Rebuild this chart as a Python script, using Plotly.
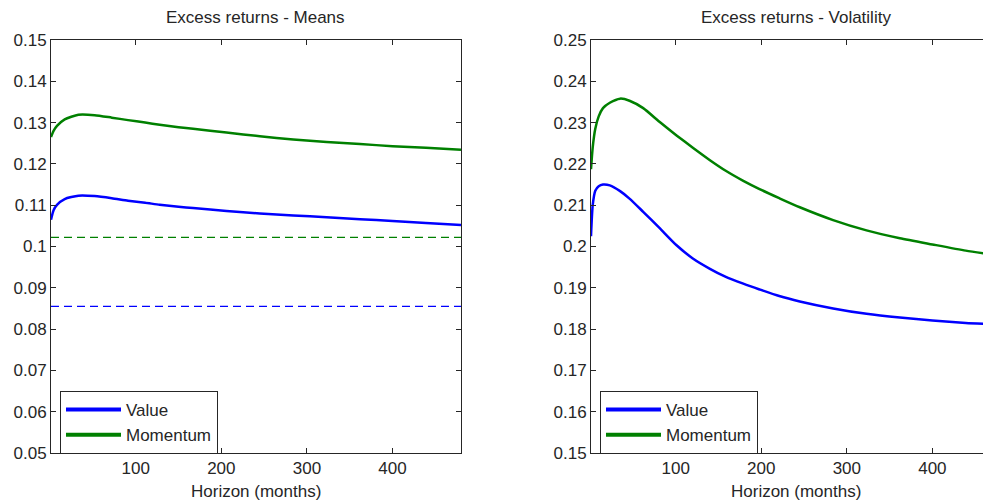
import plotly.graph_objects as go

# ---------------- data ----------------
# Horizons (months) for the means panel
mean_horizon = [1, 4, 8, 17, 33, 52, 72, 91, 111, 128, 150, 167, 206, 245, 284, 323, 362, 400, 439, 480]
mean_value = [0.1065, 0.1088, 0.1101, 0.1115, 0.1123, 0.1122, 0.1117, 0.1111, 0.1106, 0.1101,
              0.1096, 0.1093, 0.1086, 0.1080, 0.1075, 0.1071, 0.1066, 0.1062, 0.1057, 0.1052]
mean_momentum = [0.1265, 0.1280, 0.1292, 0.1308, 0.1319, 0.1318, 0.1312, 0.1306, 0.1300, 0.1295,
                 0.1289, 0.1285, 0.1276, 0.1267, 0.1259, 0.1253, 0.1248, 0.1243, 0.1239, 0.1234]
sample_mean_value = 0.0855
sample_mean_momentum = 0.1022

# Horizons (months) for the volatility panel
vol_horizon = [1, 3, 6, 10, 15, 23, 35, 46, 62, 81, 101, 120, 140, 158, 179, 198, 221, 245, 284, 323, 362, 400, 439, 480]
vol_value = [0.2025, 0.2100, 0.2135, 0.2146, 0.2150, 0.2148, 0.2134, 0.2116, 0.2084, 0.2045, 0.2003, 0.1971,
             0.1946, 0.1927, 0.1910, 0.1896, 0.1880, 0.1867, 0.1850, 0.1837, 0.1828, 0.1821, 0.1815, 0.1811]
vol_momentum = [0.2187, 0.2240, 0.2285, 0.2315, 0.2335, 0.2348, 0.2358, 0.2353, 0.2335, 0.2302, 0.2269, 0.2239,
                0.2209, 0.2184, 0.2159, 0.2139, 0.2117, 0.2095, 0.2064, 0.2039, 0.2020, 0.2005, 0.1990, 0.1977]

x_ticks = [100, 200, 300, 400]
y1_ticks = [0.05, 0.06, 0.07, 0.08, 0.09, 0.1, 0.11, 0.12, 0.13, 0.14, 0.15]
y1_labels = ["0.05", "0.06", "0.07", "0.08", "0.09", "0.1", "0.11", "0.12", "0.13", "0.14", "0.15"]
y2_ticks = [0.15, 0.16, 0.17, 0.18, 0.19, 0.2, 0.21, 0.22, 0.23, 0.24, 0.25]
y2_labels = ["0.15", "0.16", "0.17", "0.18", "0.19", "0.2", "0.21", "0.22", "0.23", "0.24", "0.25"]

# ---------------- style ----------------
BLUE = "#0000FF"
GREEN = "#008000"
INK = "#262626"
FONT = "Arial, Liberation Sans, sans-serif"
FS = 17

OFF = 8                      # page body margin of the html page
W, H = 991 - OFF, 502 - OFF  # figure size so that it fills the window


def fx(px):  # page x pixel -> paper x
    return (px - OFF) / W


mt = 40 - OFF
mb = H - (453 - OFF)
ph = H - mt - mb


def paper_y(py):  # page y pixel -> paper y
    return 1 - (py - OFF - mt) / ph


curve = dict(width=2.5, shape="spline", smoothing=0.6)

fig = go.Figure()

# Left panel: sample means (dashed) and model means
fig.add_trace(go.Scatter(x=[mean_horizon[0], mean_horizon[-1]], y=[sample_mean_momentum] * 2, mode="lines",
                         line=dict(color=GREEN, width=1.2, dash="8px,5px"), showlegend=False,
                         xaxis="x", yaxis="y"))
fig.add_trace(go.Scatter(x=[mean_horizon[0], mean_horizon[-1]], y=[sample_mean_value] * 2, mode="lines",
                         line=dict(color=BLUE, width=1.2, dash="8px,5px"), showlegend=False,
                         xaxis="x", yaxis="y"))
fig.add_trace(go.Scatter(x=mean_horizon, y=mean_value, mode="lines", line=dict(color=BLUE, **curve),
                         showlegend=False, xaxis="x", yaxis="y"))
fig.add_trace(go.Scatter(x=mean_horizon, y=mean_momentum, mode="lines", line=dict(color=GREEN, **curve),
                         showlegend=False, xaxis="x", yaxis="y"))
# Right panel: volatilities
fig.add_trace(go.Scatter(x=vol_horizon, y=vol_value, mode="lines", line=dict(color=BLUE, **curve),
                         showlegend=False, xaxis="x2", yaxis="y2"))
fig.add_trace(go.Scatter(x=vol_horizon, y=vol_momentum, mode="lines", line=dict(color=GREEN, **curve),
                         showlegend=False, xaxis="x2", yaxis="y2"))

# Legend entries (thicker lines as in the original)
for name, col in [("Value", BLUE), ("Momentum", GREEN)]:
    fig.add_trace(go.Scatter(x=[None], y=[None], mode="lines", name=name, line=dict(color=col, width=4),
                             xaxis="x", yaxis="y", legend="legend"))
    fig.add_trace(go.Scatter(x=[None], y=[None], mode="lines", name=name, line=dict(color=col, width=4),
                             xaxis="x2", yaxis="y2", legend="legend2"))

axis_common = dict(showline=True, linecolor=INK, linewidth=1, ticks="inside", ticklen=5,
                   tickcolor=INK, showgrid=False, zeroline=False, automargin=False,
                   tickfont=dict(family=FONT, size=FS, color=INK))

legend_common = dict(xanchor="left", yanchor="top", bordercolor=INK, borderwidth=1, bgcolor="white",
                     font=dict(family=FONT, size=FS, color=INK), tracegroupgap=0, itemwidth=55)

fig.update_layout(
    width=W, height=H,
    margin=dict(l=0, r=0, t=mt, b=mb, autoexpand=False),
    paper_bgcolor="white", plot_bgcolor="white",
    font=dict(family=FONT, size=FS, color=INK),
    xaxis=dict(domain=[fx(51), fx(461)], range=[1, 480], tickvals=x_ticks, mirror="ticks",
               anchor="y", **axis_common),
    yaxis=dict(domain=[0, 1], range=[0.05, 0.15], tickvals=y1_ticks, ticktext=y1_labels, mirror="ticks",
               anchor="x", **axis_common),
    xaxis2=dict(domain=[fx(591), 1], range=[1, 468.5], tickvals=x_ticks, mirror="ticks",
                anchor="y2", **axis_common),
    yaxis2=dict(domain=[0, 1], range=[0.15, 0.25], tickvals=y2_ticks, ticktext=y2_labels, mirror=False,
                anchor="x2", **axis_common),
    legend=dict(x=fx(60), y=paper_y(391), **legend_common),
    legend2=dict(x=fx(600), y=paper_y(391), **legend_common),
)

texts = [
    ("Excess returns - Means", fx((51 + 461) / 2), 17),
    ("Excess returns - Volatility", fx((591 + 1001) / 2), 17),
    ("Horizon (months)", fx((51 + 461) / 2), 491),
    ("Horizon (months)", fx((591 + 1001) / 2), 491),
]
for t, x, py in texts:
    fig.add_annotation(text=t, x=x, y=paper_y(py), xref="paper", yref="paper", showarrow=False,
                       xanchor="center", yanchor="middle", font=dict(family=FONT, size=FS, color=INK))

fig.write_html("out.html")
